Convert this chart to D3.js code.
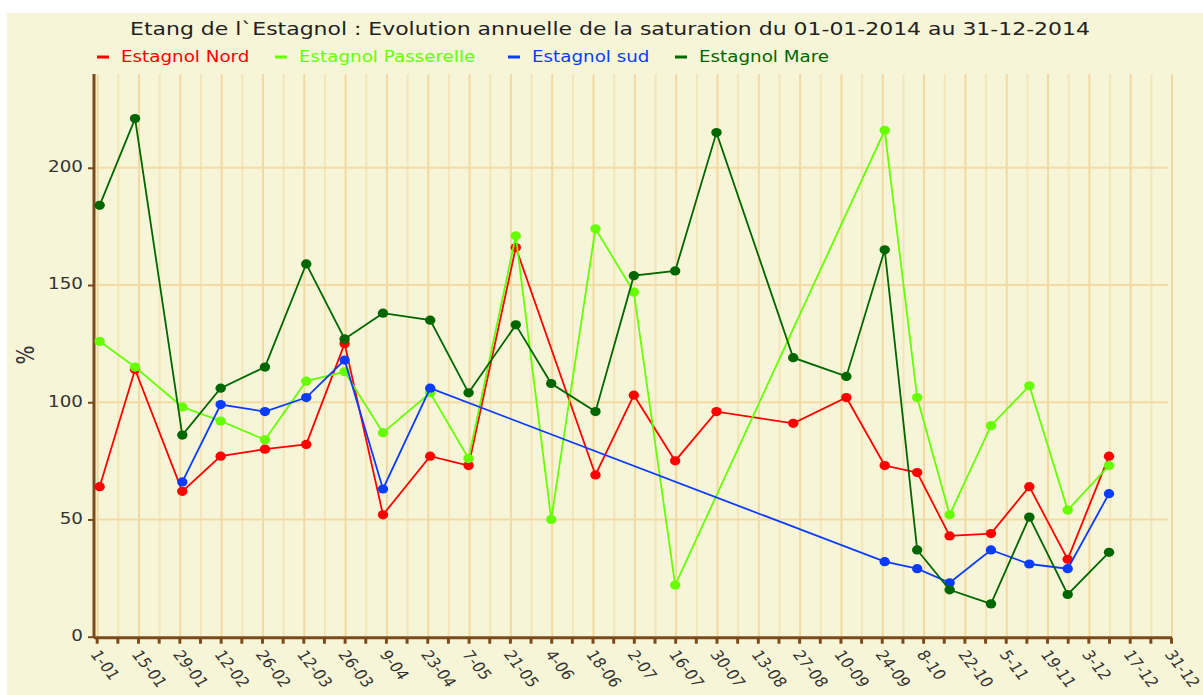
<!DOCTYPE html>
<html>
<head>
<meta charset="utf-8">
<title>Etang de l`Estagnol</title>
<script src="https://cdn.jsdelivr.net/npm/d3@7"></script>
<style>
  body { margin: 0; background: #fff; }
  text { font-family: "DejaVu Sans", Verdana, sans-serif; }
</style>
</head>
<body>
<script>
// dates des mesures
var dates = ["2014-01-02","2014-01-14","2014-01-30","2014-02-12","2014-02-27","2014-03-13","2014-03-26",
  "2014-04-08","2014-04-24","2014-05-07","2014-05-23","2014-06-04","2014-06-19","2014-07-02","2014-07-16",
  "2014-07-30","2014-08-25","2014-09-12","2014-09-25","2014-10-06","2014-10-17","2014-10-31","2014-11-13",
  "2014-11-26","2014-12-10"];

// saturation (%) par station, null = pas de mesure
var nord       = [64,114,62,77,80,82,125,52,77,73,166,null,69,103,75,96,91,102,73,70,43,44,64,33,77];
var passerelle = [126,115,98,92,84,109,113,87,104,76,171,50,174,147,22,null,null,null,216,102,52,90,107,54,73];
var sud        = [null,null,66,99,96,102,118,63,106,null,null,null,null,null,null,null,null,null,32,29,23,37,31,29,61];
var mare       = [184,221,86,106,115,159,127,138,135,104,133,108,96,154,156,215,119,111,165,37,20,14,51,18,36];

var seriesNames = ["Estagnol Nord","Estagnol Passerelle","Estagnol sud","Estagnol Mare"];
var seriesColors = ["#ff0000","#66ff00","#0a3cff","#006600"];
var yTicks = [0,50,100,150,200];

var titre = "Etang de l`Estagnol : Evolution annuelle de la saturation du 01-01-2014 au 31-12-2014";

var width = 1203, height = 695;
var stretch = 1.22;   // le texte de l'original est étiré en largeur
var parse = d3.timeParse("%Y-%m-%d");

var svg = d3.select("body").append("svg")
  .attr("width", width)
  .attr("height", height);

// fond
svg.append("rect").attr("x", 7).attr("y", 13).attr("width", width - 7).attr("height", height - 13)
  .attr("fill", "#f7f5d7");

var x = d3.scaleTime()
  .domain([parse("2014-01-01"), parse("2014-12-31")])
  .range([96.7, 1171]);

var y = d3.scaleLinear()
  .domain([0, 240])
  .range([636.7, 74]);

var weeks = d3.timeDay.range(parse("2014-01-01"), parse("2015-01-01"), 7);

// grille verticale
svg.append("g").selectAll("line")
  .data(weeks)
  .enter()
  .append("line")
  .attr("x1", function(d){ return x(d) + 1; })
  .attr("x2", function(d){ return x(d) + 1; })
  .attr("y1", y(240))
  .attr("y2", y(0))
  .attr("stroke", function(d,i){ return i % 2 == 0 ? "#f2d9a2" : "#f5e5b8"; })
  .attr("stroke-width", 2);

// grille horizontale
svg.append("g").selectAll("line")
  .data(yTicks.slice(1))
  .enter()
  .append("line")
  .attr("x1", 96)
  .attr("x2", 1168)
  .attr("y1", function(d){ return y(d); })
  .attr("y2", function(d){ return y(d); })
  .attr("stroke", "#f3dba6")
  .attr("stroke-width", 2);

// axe y
var yAxis = d3.axisLeft(y).tickValues(yTicks).tickSize(6);
var gy = svg.append("g").attr("transform", "translate(94,0)").call(yAxis);
gy.select(".domain").attr("stroke", "#7b4a1c").attr("stroke-width", 3)
  .attr("d", "M0," + y(240) + "V" + (y(0) + 1));
gy.selectAll(".tick line").attr("stroke", "#7b4a1c").attr("stroke-width", 2);
gy.selectAll(".tick text")
  .attr("x", null)
  .attr("transform", "translate(-11,-1) scale(" + stretch + ",1)")
  .attr("fill", "#333")
  .style("font-size", "15px")
  .style("font-family", "'DejaVu Sans', Verdana, sans-serif");

// axe x
var xAxis = d3.axisBottom(x).tickValues(weeks).tickSize(6).tickFormat("");
var gx = svg.append("g").attr("transform", "translate(0," + (y(0) + 1) + ")").call(xAxis);
gx.select(".domain").attr("stroke", "#7b4a1c").attr("stroke-width", 3)
  .attr("d", "M94,0H" + (x.range()[1] + 1));
gx.selectAll(".tick line").attr("stroke", "#7b4a1c").attr("stroke-width", 3);

var fmt = d3.timeFormat("%-d-%m");
svg.append("g").selectAll("text")
  .data(weeks.filter(function(d,i){ return i % 2 == 0; }))
  .enter()
  .append("text")
  .attr("transform", function(d){
    return "translate(" + (x(d) - 2) + "," + (y(0) + 15) + ") scale(" + stretch + ",1) rotate(57)";
  })
  .attr("dy", "0.35em")
  .attr("fill", "#333")
  .style("font-size", "14px")
  .text(fmt);

// titre y
svg.append("text")
  .attr("transform", "translate(34,355) scale(" + stretch + ",1) rotate(-90)")
  .attr("text-anchor", "middle")
  .attr("fill", "#333")
  .style("font-size", "20px")
  .text("%");

// titre
svg.append("text")
  .attr("transform", "translate(610,35) scale(" + stretch + ",1)")
  .attr("text-anchor", "middle")
  .attr("fill", "#222")
  .style("font-size", "18px")
  .text(titre);

// séries
var all = [nord, passerelle, sud, mare];
var line = d3.line()
  .x(function(d){ return x(d.date); })
  .y(function(d){ return y(d.v); });

all.forEach(function(vals, k){
  var pts = [];
  vals.forEach(function(v, i){
    if (v != null) pts.push({date: parse(dates[i]), v: v});
  });
  var g = svg.append("g");
  g.append("path")
    .attr("d", line(pts))
    .attr("fill", "none")
    .attr("stroke", seriesColors[k])
    .attr("stroke-width", 1.8);
  g.selectAll("ellipse")
    .data(pts)
    .enter()
    .append("ellipse")
    .attr("cx", function(d){ return x(d.date); })
    .attr("cy", function(d){ return y(d.v); })
    .attr("rx", 5.2)
    .attr("ry", 4.6)
    .attr("fill", seriesColors[k]);
});

// légende
var legX = [97, 275, 508, 675];
var leg = svg.append("g").selectAll("g")
  .data(seriesNames)
  .enter()
  .append("g")
  .attr("transform", function(d,i){ return "translate(" + legX[i] + ",57)"; });
leg.append("line")
  .attr("x1", 0).attr("x2", 12)
  .attr("stroke", function(d,i){ return seriesColors[i]; })
  .attr("stroke-width", 3);
leg.append("text")
  .attr("transform", "translate(24,0) scale(" + stretch + ",1)")
  .attr("dy", "0.35em")
  .attr("fill", function(d,i){ return seriesColors[i]; })
  .style("font-size", "15px")
  .text(function(d){ return d; });
</script>
</body>
</html>
